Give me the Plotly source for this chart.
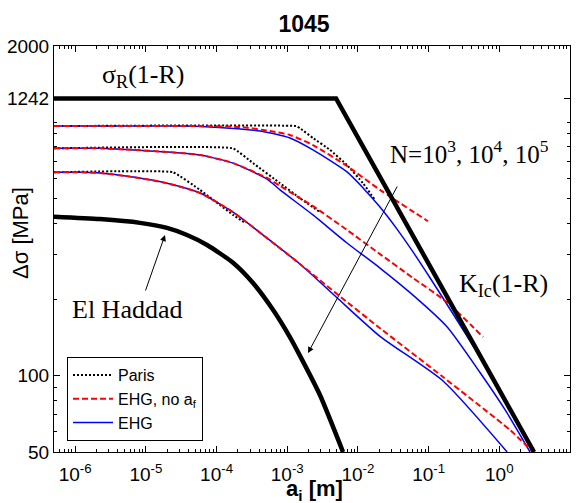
import plotly.graph_objects as go

# ---------------- data (a_i in m, delta sigma in MPa) ----------------
# sigma_R(1-R) / K_Ic(1-R) limit
a_lim = [5.0e-7, 4.9e-3, 3.1]
s_lim = [1242, 1242, 50]

# El Haddad curve
a_elh = [5.0e-7, 2.24e-6, 8.26e-6, 1.99e-5, 3.82e-5, 7.33e-5, 1.71e-4, 3.28e-4,
         6.28e-4, 1.09e-3, 1.51e-3, 2.90e-3, 6.15e-3]
s_elh = [424, 415, 401, 383, 359, 328, 279, 232, 182, 142, 120, 83.9, 50]

# Paris (N = 1e3, 1e4, 1e5)
a_paris_1e3 = [5.0e-7, 1.33e-3, 1.51e-3, 2.31e-3, 4.03e-3, 7.00e-3, 1.18e-2, 1.75e-2]
s_paris_1e3 = [966, 966, 948, 867, 778, 678, 575, 493]
a_paris_1e4 = [5.0e-7, 1.71e-4, 3.28e-4, 7.91e-4, 1.51e-3, 2.90e-3]
s_paris_1e4 = [789, 789, 690, 575, 502, 442]
a_paris_1e5 = [5.0e-7, 2.42e-5, 5.83e-5, 1.71e-4, 2.52e-4]
s_paris_1e5 = [635, 635, 541, 431, 401]

# EHG, no a_f
a_ehgn_1e3 = [5.0e-7, 5.83e-5, 2.15e-4, 5.70e-4, 1.09e-3, 2.31e-3, 7.00e-3, 2.05e-2, 9.79e-2]
s_ehgn_1e3 = [966, 966, 958, 924, 891, 813, 672, 541, 407]
a_ehgn_1e4 = [5.0e-7, 2.24e-6, 6.58e-6, 1.99e-5, 5.83e-5, 1.71e-4, 5.18e-4, 7.91e-4,
              1.51e-3, 2.31e-3, 7.00e-3, 2.05e-2, 6.01e-2, 0.182, 0.589]
s_ehgn_1e4 = [789, 789, 778, 764, 743, 690, 603, 561, 502, 467, 376, 302, 243, 195, 142]
a_ehgn_1e5 = [5.0e-7, 1.17e-6, 2.24e-6, 6.58e-6, 1.99e-5, 5.83e-5, 1.71e-4, 5.18e-4,
              1.51e-3, 5.06e-3, 2.05e-2, 0.160, 1.42, 3.00]
s_ehgn_1e5 = [635, 635, 631, 608, 575, 526, 442, 349, 276, 210, 154, 98.8, 61.0, 50]

# EHG
a_ehg_1e3 = [5.0e-7, 3.04e-5, 1.55e-4, 4.12e-4, 1.09e-3, 2.31e-3, 7.00e-3, 1.18e-2,
             2.05e-2, 3.57e-2, 6.01e-2, 0.105, 0.214, 0.815, 3.10]
s_ehg_1e3 = [966, 966, 948, 924, 867, 778, 637, 551, 463, 379, 308, 243, 178, 98.0, 50]
a_ehg_1e4 = [5.0e-7, 2.24e-6, 6.58e-6, 1.99e-5, 5.83e-5, 1.71e-4, 5.18e-4, 7.91e-4,
             2.31e-3, 7.00e-3, 2.05e-2, 6.01e-2, 0.182, 0.533, 1.21, 2.72]
s_ehg_1e4 = [789, 789, 778, 764, 743, 690, 597, 541, 431, 334, 266, 208, 156, 103, 73.3, 50]
a_ehg_1e5 = [5.0e-7, 1.17e-6, 2.24e-6, 6.58e-6, 1.99e-5, 5.83e-5, 1.71e-4, 5.18e-4,
             1.51e-3, 5.06e-3, 2.05e-2, 0.160, 1.29]
s_ehg_1e5 = [635, 635, 631, 608, 575, 526, 442, 349, 276, 203, 143, 95.3, 50]

x_tick_vals = [1e-6, 1e-5, 1e-4, 1e-3, 1e-2, 1e-1, 1e0, 1e1]
x_tick_text = ["10<sup>-6</sup>", "10<sup>-5</sup>", "10<sup>-4</sup>", "10<sup>-3</sup>",
               "10<sup>-2</sup>", "10<sup>-1</sup>", "10<sup>0</sup>", "10<sup>1</sup>"]
y_tick_vals = [50, 100, 1242, 2000]
y_tick_text = ["50", "100", "1242", "2000"]

# ---------------- figure ----------------
fig = go.Figure()

BLACK, RED, BLUE = "#000000", "#ff0000", "#0000ff"

paris = [(a_paris_1e3, s_paris_1e3), (a_paris_1e4, s_paris_1e4), (a_paris_1e5, s_paris_1e5)]
ehg = [(a_ehg_1e3, s_ehg_1e3), (a_ehg_1e4, s_ehg_1e4), (a_ehg_1e5, s_ehg_1e5)]
ehgn = [(a_ehgn_1e3, s_ehgn_1e3), (a_ehgn_1e4, s_ehgn_1e4), (a_ehgn_1e5, s_ehgn_1e5)]

for i, (a, s) in enumerate(paris):
    fig.add_trace(go.Scatter(x=a, y=s, mode="lines", name="Paris", legendgroup="paris",
                             showlegend=(i == 0), legendrank=1,
                             line=dict(color=BLACK, width=2, dash="2px,2px",
                                       shape="spline", smoothing=0.3)))
for i, (a, s) in enumerate(ehg):
    fig.add_trace(go.Scatter(x=a, y=s, mode="lines", name="EHG", legendgroup="ehg",
                             showlegend=(i == 0), legendrank=3,
                             line=dict(color=BLUE, width=1.5, shape="spline", smoothing=0.6)))
for i, (a, s) in enumerate(ehgn):
    fig.add_trace(go.Scatter(x=a, y=s, mode="lines", name="EHG, no a<sub>f</sub>",
                             legendgroup="ehgn", showlegend=(i == 0), legendrank=2,
                             line=dict(color=RED, width=2, dash="6px,3px",
                                       shape="spline", smoothing=0.6)))

fig.add_trace(go.Scatter(x=a_lim, y=s_lim, mode="lines", showlegend=False,
                         line=dict(color=BLACK, width=4.5)))
fig.add_trace(go.Scatter(x=a_elh, y=s_elh, mode="lines", showlegend=False,
                         line=dict(color=BLACK, width=4.5, shape="spline", smoothing=0.6)))

SANS = "Arial, Liberation Sans, sans-serif"
SERIF = "Times New Roman, Liberation Serif, serif"

x_minor = [m * 10.0 ** k for k in range(-7, 1) for m in range(2, 10)]
y_minor = [60, 70, 80, 90, 200, 300, 400, 500, 600, 700, 800, 900, 1000]

axis_common = dict(showline=True, linecolor=BLACK, linewidth=1, mirror="ticks",
                   ticks="inside", ticklen=6, tickcolor=BLACK, showgrid=False,
                   zeroline=False, tickfont=dict(family=SANS, size=19, color=BLACK))

fig.update_xaxes(type="log", range=[-6.3, 1.0], tickmode="array",
                 tickvals=x_tick_vals, ticktext=x_tick_text, ticklabelstandoff=5,
                 minor=dict(tickmode="array", tickvals=x_minor, ticks="inside",
                            ticklen=3, tickcolor=BLACK),
                 **axis_common)
fig.update_yaxes(type="log", range=[1.69897, 3.30103], tickmode="array",
                 tickvals=y_tick_vals, ticktext=y_tick_text,
                 minor=dict(tickmode="array", tickvals=y_minor, ticks="inside",
                            ticklen=3, tickcolor=BLACK),
                 **axis_common)

def px(xp):
    return (xp - 54) / 516.0

def py(yp):
    return (452 - yp) / 406.0

annotations = [
    dict(text="σ<sub>R</sub>(1-R)", x=px(100), y=py(76), xanchor="left", yanchor="middle",
         font=dict(family=SERIF, size=26, color=BLACK)),
    dict(text="N=10<sup>3</sup>, 10<sup>4</sup>, 10<sup>5</sup>", x=px(388), y=py(152),
         xanchor="left", yanchor="middle", font=dict(family=SERIF, size=25, color=BLACK)),
    dict(text="K<sub>Ic</sub>(1-R)", x=px(457), y=py(285), xanchor="left", yanchor="middle",
         font=dict(family=SERIF, size=26, color=BLACK)),
    dict(text="El Haddad", x=px(70), y=py(309), xanchor="left", yanchor="middle",
         font=dict(family=SERIF, size=26, color=BLACK)),
    dict(text="Δσ [MPa]", x=px(20), y=py(233), textangle=-90, xanchor="center",
         yanchor="middle", font=dict(family=SANS, size=22, color=BLACK)),
    dict(text="<b>a<sub>i</sub> [m]</b>", x=px(314), y=py(490), xanchor="center",
         yanchor="middle", font=dict(family=SANS, size=22, color=BLACK)),
    # arrows
    dict(text="", x=px(165), y=py(235), ax=-20, ay=57, showarrow=True, arrowhead=2,
         arrowsize=1.2, arrowwidth=1, arrowcolor=BLACK),
    dict(text="", x=px(308), y=py(353), ax=90, ay=-168, showarrow=True, arrowhead=2,
         arrowsize=1.2, arrowwidth=1, arrowcolor=BLACK),
]
for an in annotations:
    an.setdefault("xref", "paper")
    an.setdefault("yref", "paper")
    an.setdefault("showarrow", False)
fig.update_layout(annotations=annotations)

fig.update_layout(
    width=576, height=503,
    margin=dict(l=54, r=6, t=46, b=51, pad=0),
    paper_bgcolor="white", plot_bgcolor="white",
    title=dict(text="<b>1045</b>", x=304 / 576, xanchor="center", y=1 - 24 / 503,
               yanchor="middle", font=dict(family=SANS, size=23, color=BLACK)),
    legend=dict(x=px(67), y=py(357), xanchor="left", yanchor="top",
                bgcolor="white", bordercolor=BLACK, borderwidth=1,
                font=dict(family=SANS, size=16, color=BLACK),
                itemwidth=40, tracegroupgap=0,
                entrywidth=100, entrywidthmode="pixels"),
    showlegend=True,
)

fig.write_html("out.html")
